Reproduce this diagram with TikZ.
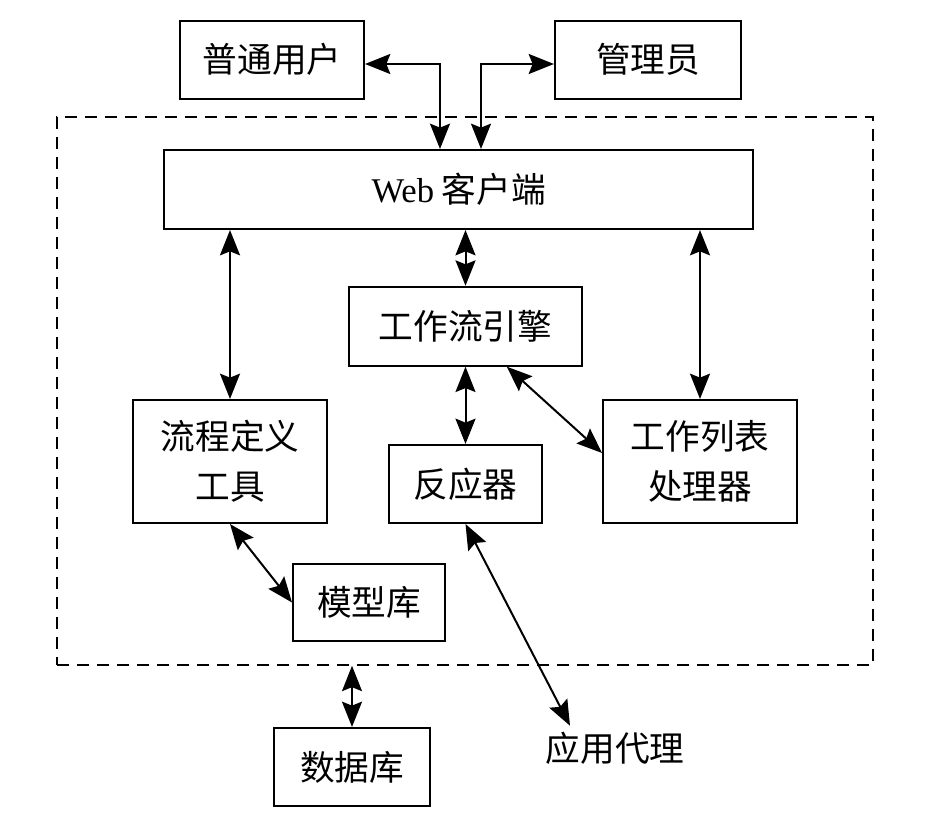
\documentclass[tikz,border=0pt]{standalone}
\usepackage{fontspec}
\setmainfont{Liberation Serif}
\newfontfamily\cjk{Noto Sans CJK SC}
\usetikzlibrary{arrows.meta}
\tikzset{
  tip/.tip={Stealth[length=19pt 0,width=15pt 0,inset=3pt 0]},
  box/.style={draw, line width=1.5pt, inner sep=0pt, align=center,
    font=\cjk\fontsize{26}{37.5}\selectfont},
  link/.style={line width=1.5pt, tip-tip},
  frame/.style={draw, dashed, dash pattern=on 9pt off 6pt, line width=1.2pt, inner sep=0pt}
}
\begin{document}
\begin{tikzpicture}[x=0.75pt,y=-0.75pt]
\useasboundingbox (0,0) rectangle (950,821);
\node[frame, minimum width=612pt, minimum height=411pt] (fr) at (465,391) {};
\node[box, minimum width=138pt, minimum height=58.5pt] (user) at (272,59.5) {普通用户};
\node[box, minimum width=139.5pt, minimum height=58.5pt] (admin) at (648,59.5) {管理员};
\node[box, minimum width=441.4pt, minimum height=59.25pt] (web) at (458.75,189.5) {{\rmfamily Web} 客户端};
\node[box, minimum width=175.1pt, minimum height=59.25pt] (engine) at (465.5,326.2) {工作流引擎};
\node[box, minimum width=145.5pt, minimum height=92.25pt] (tool) at (230,461.5) {流程定义\\工具};
\node[box, minimum width=114.75pt, minimum height=58.5pt] (reactor) at (465.5,484) {反应器};
\node[box, minimum width=145.5pt, minimum height=92.25pt] (work) at (700,461.5) {工作列表\\处理器};
\node[box, minimum width=114pt, minimum height=57.75pt] (model) at (369,602.5) {模型库};
\node[box, minimum width=117pt, minimum height=58.5pt] (db) at (352,767) {数据库};
\node[font=\cjk\fontsize{26}{37.5}\selectfont, inner sep=0pt, minimum height=33pt] (agent) at (615,748) {应用代理};
\coordinate (ya) at (0,64);
\coordinate (xa) at (440,0);
\coordinate (xb) at (481,0);
\draw[link] (user.east |- ya) -| (xa |- web.north);
\draw[link] (admin.west |- ya) -| (xb |- web.north);
\draw[link] (engine.north |- web.south) -- (engine.north);
\draw[link] (tool.north |- web.south) -- (tool.north);
\draw[link] (work.north |- web.south) -- (work.north);
\draw[link] (engine.south) -- (reactor.north);
\draw[link] ([xshift=31pt]engine.south) -- ([yshift=6.4pt]work.west);
\draw[link] (tool.south) -- (model.west);
\draw[link] (reactor.south) -- ([xshift=-33.75pt]agent.north);
\draw[link] (fr.south -| db.north) -- (db.north);
\end{tikzpicture}
\end{document}
